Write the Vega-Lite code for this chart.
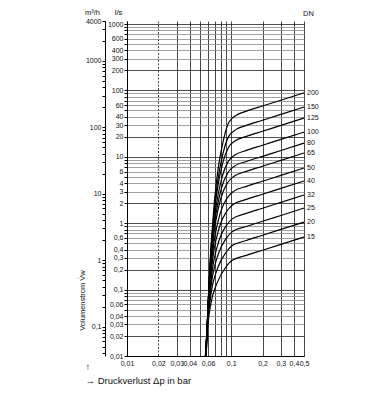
{
  "$schema": "https://vega.github.io/schema/vega-lite/v6.json",
  "width": 177,
  "height": 335,
  "autosize": "none",
  "padding": {"left": 127, "top": 21, "right": 72, "bottom": 39},
  "background": "white",
  "config": {
    "font": "Liberation Sans",
    "view": {"stroke": null},
    "axis": {"labelFont": "Liberation Sans", "titleFont": "Liberation Sans", "labelColor": "#111", "titleColor": "#111", "titleFontWeight": "normal", "labelFontSize": 7, "titleFontSize": 7.5, "labelOverlap": false, "labelFlush": false, "labelBound": false}
  },
  "datasets": {
    "curves": [
      {"dn":"15","dp":0.5,"q":0.62},{"dn":"15","dp":0.3,"q":0.48},{"dn":"15","dp":0.2,"q":0.392},{"dn":"15","dp":0.14,"q":0.328},{"dn":"15","dp":0.1,"q":0.269},{"dn":"15","dp":0.0887,"q":0.217},{"dn":"15","dp":0.073,"q":0.124},{"dn":"15","dp":0.0634,"q":0.0584},{"dn":"15","dp":0.059,"q":0.0248},{"dn":"15","dp":0.0565,"q":0.01},
      {"dn":"20","dp":0.5,"q":1.04},{"dn":"20","dp":0.3,"q":0.806},{"dn":"20","dp":0.2,"q":0.658},{"dn":"20","dp":0.14,"q":0.55},{"dn":"20","dp":0.101,"q":0.4535},{"dn":"20","dp":0.0893,"q":0.365},{"dn":"20","dp":0.0741,"q":0.21},{"dn":"20","dp":0.0639,"q":0.0843},{"dn":"20","dp":0.0593,"q":0.0299},{"dn":"20","dp":0.0566,"q":0.01},
      {"dn":"25","dp":0.5,"q":1.69},{"dn":"25","dp":0.3,"q":1.309},{"dn":"25","dp":0.2,"q":1.069},{"dn":"25","dp":0.14,"q":0.894},{"dn":"25","dp":0.1021,"q":0.741},{"dn":"25","dp":0.0899,"q":0.595},{"dn":"25","dp":0.0752,"q":0.344},{"dn":"25","dp":0.0644,"q":0.119},{"dn":"25","dp":0.0595,"q":0.0357},{"dn":"25","dp":0.0567,"q":0.01},
      {"dn":"32","dp":0.5,"q":2.66},{"dn":"32","dp":0.3,"q":2.06},{"dn":"32","dp":0.2,"q":1.682},{"dn":"32","dp":0.14,"q":1.408},{"dn":"32","dp":0.1031,"q":1.172},{"dn":"32","dp":0.0905,"q":0.939},{"dn":"32","dp":0.0763,"q":0.545},{"dn":"32","dp":0.0649,"q":0.164},{"dn":"32","dp":0.0597,"q":0.0422},{"dn":"32","dp":0.0568,"q":0.01},
      {"dn":"40","dp":0.5,"q":4.32},{"dn":"40","dp":0.3,"q":3.346},{"dn":"40","dp":0.2,"q":2.732},{"dn":"40","dp":0.14,"q":2.286},{"dn":"40","dp":0.1042,"q":1.913},{"dn":"40","dp":0.0911,"q":1.53},{"dn":"40","dp":0.0774,"q":0.892},{"dn":"40","dp":0.0653,"q":0.232},{"dn":"40","dp":0.0599,"q":0.0504},{"dn":"40","dp":0.0569,"q":0.01},
      {"dn":"50","dp":0.5,"q":6.78},{"dn":"50","dp":0.3,"q":5.252},{"dn":"50","dp":0.2,"q":4.288},{"dn":"50","dp":0.14,"q":3.588},{"dn":"50","dp":0.1053,"q":3.018},{"dn":"50","dp":0.0917,"q":2.41},{"dn":"50","dp":0.0785,"q":1.411},{"dn":"50","dp":0.0658,"q":0.32},{"dn":"50","dp":0.0602,"q":0.0594},{"dn":"50","dp":0.057,"q":0.01},
      {"dn":"65","dp":0.5,"q":11.4},{"dn":"65","dp":0.3,"q":8.83},{"dn":"65","dp":0.2,"q":7.21},{"dn":"65","dp":0.14,"q":6.033},{"dn":"65","dp":0.1064,"q":5.101},{"dn":"65","dp":0.0923,"q":4.065},{"dn":"65","dp":0.0797,"q":2.389},{"dn":"65","dp":0.0663,"q":0.462},{"dn":"65","dp":0.0604,"q":0.0718},{"dn":"65","dp":0.0571,"q":0.01},
      {"dn":"80","dp":0.5,"q":16.1},{"dn":"80","dp":0.3,"q":12.47},{"dn":"80","dp":0.2,"q":10.18},{"dn":"80","dp":0.14,"q":8.52},{"dn":"80","dp":0.1075,"q":7.24},{"dn":"80","dp":0.0929,"q":5.759},{"dn":"80","dp":0.0809,"q":3.399},{"dn":"80","dp":0.0668,"q":0.591},{"dn":"80","dp":0.0607,"q":0.0815},{"dn":"80","dp":0.0572,"q":0.01},
      {"dn":"100","dp":0.5,"q":23.6},{"dn":"100","dp":0.3,"q":18.28},{"dn":"100","dp":0.2,"q":14.93},{"dn":"100","dp":0.14,"q":12.49},{"dn":"100","dp":0.1086,"q":10.67},{"dn":"100","dp":0.0935,"q":8.472},{"dn":"100","dp":0.082,"q":5.018},{"dn":"100","dp":0.0673,"q":0.777},{"dn":"100","dp":0.0609,"q":0.0938},{"dn":"100","dp":0.0573,"q":0.01},
      {"dn":"125","dp":0.5,"q":38.4},{"dn":"125","dp":0.3,"q":29.74},{"dn":"125","dp":0.2,"q":24.29},{"dn":"125","dp":0.14,"q":20.32},{"dn":"125","dp":0.1097,"q":17.45},{"dn":"125","dp":0.0942,"q":13.83},{"dn":"125","dp":0.0832,"q":8.225},{"dn":"125","dp":0.0678,"q":1.098},{"dn":"125","dp":0.0611,"q":0.112},{"dn":"125","dp":0.0574,"q":0.01},
      {"dn":"150","dp":0.5,"q":56.2},{"dn":"150","dp":0.3,"q":43.53},{"dn":"150","dp":0.2,"q":35.55},{"dn":"150","dp":0.14,"q":29.74},{"dn":"150","dp":0.1109,"q":25.67},{"dn":"150","dp":0.0948,"q":20.31},{"dn":"150","dp":0.0845,"q":12.13},{"dn":"150","dp":0.0684,"q":1.441},{"dn":"150","dp":0.0614,"q":0.129},{"dn":"150","dp":0.0575,"q":0.01},
      {"dn":"200","dp":0.5,"q":92},{"dn":"200","dp":0.3,"q":71.26},{"dn":"200","dp":0.2,"q":58.19},{"dn":"200","dp":0.14,"q":48.69},{"dn":"200","dp":0.112,"q":42.24},{"dn":"200","dp":0.0954,"q":33.36},{"dn":"200","dp":0.0857,"q":20},{"dn":"200","dp":0.0689,"q":2.045},{"dn":"200","dp":0.0616,"q":0.154},{"dn":"200","dp":0.0576,"q":0.01}
    ]
  },
  "resolve": {"scale": {"y": "independent"}, "axis": {"y": "independent"}},
  "layer": [
    {
      "data": {"name": "curves"},
      "mark": {"type": "line", "color": "#000", "strokeWidth": 1.2, "interpolate": "monotone"},
      "encoding": {
        "x": {
          "field": "dp", "type": "quantitative",
          "scale": {"type": "log", "domain": [0.01, 0.5], "nice": false},
          "axis": {
            "values": [0.01,0.02,0.03,0.04,0.05,0.06,0.07,0.08,0.09,0.1,0.2,0.3,0.4,0.5],
            "labelExpr": "indexof([0.01,0.02,0.03,0.04,0.06,0.1,0.2,0.3,0.4,0.5], datum.value) >= 0 ? replace(format(datum.value, '~g'), '.', ',') : ''",
            "grid": true, "gridColor": "#333", "gridWidth": 0.9,
            "gridDash": {"condition": {"test": "datum.value == 0.02", "value": [2, 1.5]}, "value": []},
            "ticks": false, "labelPadding": 3, "domain": true, "domainColor": "#000",
            "title": ["↑", "→ Druckverlust Δp in bar"], "titleAnchor": "start", "titleAlign": "left",
            "titleX": -42, "titleY": 5, "titleBaseline": "top", "titleFontSize": 9.5, "titleLineHeight": 14
          }
        },
        "y": {
          "field": "q", "type": "quantitative",
          "scale": {"type": "log", "domain": [0.01, 1111.1], "nice": false},
          "axis": {
            "orient": "left",
            "values": [0.01,0.02,0.03,0.04,0.05,0.06,0.07,0.08,0.09,0.1,0.2,0.3,0.4,0.5,0.6,0.7,0.8,0.9,1,2,3,4,5,6,7,8,9,10,20,30,40,50,60,70,80,90,100,200,300,400,500,600,700,800,900,1000],
            "labelExpr": "indexof([0.01,0.02,0.03,0.04,0.06,0.1,0.2,0.3,0.4,0.6,1,2,3,4,6,10,20,30,40,60,100,200,300,400,600,1000], datum.value) >= 0 ? replace(format(datum.value, '~g'), '.', ',') : ''",
            "grid": true,
            "gridColor": {"condition": {"test": "indexof([0.01,0.1,1,10,100,1000,0.02,0.2,2,20,200], datum.value) >= 0", "value": "#222"}, "value": "#888"},
            "gridWidth": 0.8, "tickSize": 3, "tickColor": "#000", "domainColor": "#000", "labelPadding": 1,
            "title": "l/s", "titleAngle": 0, "titleX": -9, "titleY": -9, "titleAlign": "center", "titleBaseline": "middle"
          }
        },
        "detail": {"field": "dn"}
      }
    },
    {
      "data": {"name": "curves"},
      "transform": [{"filter": "datum.dp == 0.5"}],
      "mark": {"type": "text", "align": "left", "baseline": "middle", "dx": 3, "fontSize": 7, "font": "Liberation Sans", "color": "#111"},
      "encoding": {
        "x": {"field": "dp", "type": "quantitative", "scale": {"type": "log", "domain": [0.01, 0.5], "nice": false}},
        "y": {"field": "q", "type": "quantitative", "scale": {"type": "log", "domain": [0.01, 1111.1], "nice": false}, "axis": null},
        "text": {"field": "dn"}
      }
    },
    {
      "data": {"values": [{}]},
      "mark": {"type": "point", "opacity": 0},
      "encoding": {
        "y": {
          "datum": 1, "type": "quantitative",
          "scale": {"type": "log", "domain": [0.036, 4000], "nice": false},
          "axis": {
            "orient": "left", "offset": 22,
            "values": [0.04,0.05,0.06,0.07,0.08,0.09,0.1,0.2,0.3,0.4,0.5,0.6,0.7,0.8,0.9,1,2,3,4,5,6,7,8,9,10,20,30,40,50,60,70,80,90,100,200,300,400,500,600,700,800,900,1000,2000,3000,4000],
            "labelExpr": "indexof([0.1,1,10,100,1000,4000], datum.value) >= 0 ? replace(format(datum.value, '~g'), '.', ',') : ''",
            "grid": false, "tickSize": 3, "tickColor": "#000", "domainColor": "#000", "labelPadding": 1,
            "title": "m³/h", "titleAngle": 0, "titleX": -13, "titleY": -9, "titleAlign": "center", "titleBaseline": "middle"
          }
        }
      }
    },
    {
      "data": {"values": [{}]},
      "mark": {"type": "point", "opacity": 0},
      "encoding": {
        "y": {
          "datum": 1, "type": "quantitative",
          "scale": {"type": "linear", "domain": [0, 10]},
          "axis": {
            "orient": "left", "offset": 45, "labels": false, "ticks": false, "domain": false, "grid": false,
            "title": "Volumenstrom V̇w", "titleAngle": -90, "titleX": 0, "titleY": 279, "titleAlign": "center", "titleBaseline": "middle", "titleFontSize": 7.5
          }
        }
      }
    },
    {
      "data": {"values": [{}]},
      "mark": {"type": "point", "opacity": 0},
      "encoding": {
        "y": {
          "datum": 1, "type": "quantitative",
          "scale": {"type": "linear", "domain": [0, 10]},
          "axis": {
            "orient": "right", "offset": 0, "labels": false, "ticks": false, "domain": false, "grid": false,
            "title": "DN", "titleAngle": 0, "titleX": 4, "titleY": -8, "titleAlign": "center", "titleBaseline": "middle", "titleFontSize": 7.5
          }
        }
      }
    }
  ]
}
